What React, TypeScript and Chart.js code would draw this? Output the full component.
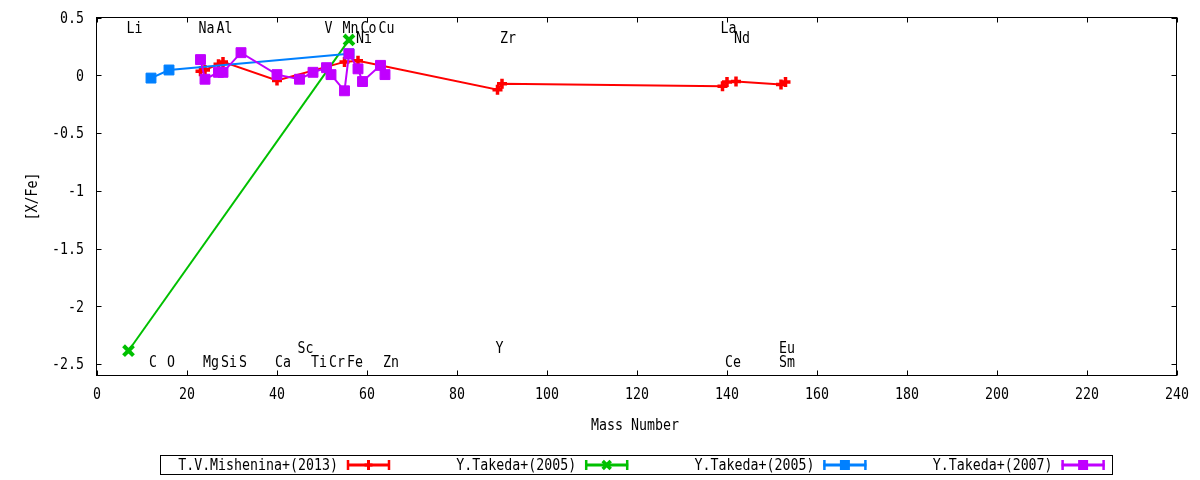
import React, { useEffect, useRef } from "react";
import { Chart, registerables } from "chart.js";

Chart.register(...registerables);

const FONT = '"DejaVu Sans Mono", monospace';
const FONT_SIZE = 15;
const TEXT_SX = 0.885; // gnuplot's text is a little narrow

const xTicks = [0, 20, 40, 60, 80, 100, 120, 140, 160, 180, 200, 220, 240];
const yTicks = [-2.5, -2, -1.5, -1, -0.5, 0, 0.5];
const xMin = 0;
const xMax = 240;
const yMin = -2.59;
const yMax = 0.5;

const xTitle = "Mass Number";
const yTitle = "[X/Fe]";

const seriesNames = ["T.V.Mishenina+(2013)", "Y.Takeda+(2005)", "Y.Takeda+(2005)", "Y.Takeda+(2007)"];
const seriesColors = ["#ff0000", "#00c000", "#0080ff", "#c000ff"];
const seriesMarkers = ["cross", "crossRot", "rect", "rect"];

const misheninaMass = [23, 24, 27, 28, 40, 55, 58, 89, 90, 139, 140, 142, 152, 153];
const misheninaVal = [0.04, 0.05, 0.1, 0.12, -0.04, 0.12, 0.13, -0.12, -0.07, -0.09, -0.055, -0.05, -0.075, -0.055];

const takeda05aMass = [7, 56];
const takeda05aVal = [-2.38, 0.31];

const takeda05bMass = [12, 16, 56];
const takeda05bVal = [-0.02, 0.05, 0.19];

const takeda07Mass = [23, 24, 27, 28, 32, 40, 45, 48, 51, 52, 55, 56, 58, 59, 63, 64];
const takeda07Val = [0.14, -0.03, 0.03, 0.03, 0.2, 0.01, -0.03, 0.03, 0.07, 0.01, -0.13, 0.19, 0.06, -0.05, 0.09, 0.01];

// element name labels written inside the plot
const elementNames = [
  "Li", "Na", "Al", "V", "Mn", "Co", "Cu", "La",
  "Ni", "Zr", "Nd",
  "C", "O", "Mg", "Si", "S", "Ca", "Ti", "Cr", "Fe", "Zn", "Ce", "Sm",
  "Sc", "Y", "Eu",
];
const elementMass = [
  7, 23, 27, 51, 55, 59, 63, 139,
  58, 90, 142,
  12, 16, 24, 28, 32, 40, 48, 52, 56, 64, 140, 152,
  45, 89, 152,
];
const elementLabelY = [
  0.41, 0.41, 0.41, 0.41, 0.41, 0.41, 0.41, 0.41,
  0.33, 0.33, 0.33,
  -2.48, -2.48, -2.48, -2.48, -2.48, -2.48, -2.48, -2.48, -2.48, -2.48, -2.48, -2.48,
  -2.36, -2.36, -2.36,
];

const toPoints = (xs: number[], ys: number[]) => xs.map((x, i) => ({ x, y: ys[i] }));

function drawText(ctx: CanvasRenderingContext2D, s: string, x: number, y: number, align: CanvasTextAlign, rot = 0) {
  ctx.save();
  ctx.translate(x, y);
  if (rot) ctx.rotate(rot);
  ctx.scale(TEXT_SX, 1);
  ctx.font = `${FONT_SIZE}px ${FONT}`;
  ctx.fillStyle = "#000";
  ctx.textAlign = align;
  ctx.textBaseline = "middle";
  ctx.fillText(s, 0, 1);
  ctx.restore();
}

function drawMarker(ctx: CanvasRenderingContext2D, kind: string, x: number, y: number, color: string) {
  ctx.save();
  ctx.strokeStyle = color;
  ctx.fillStyle = color;
  if (kind === "rect") {
    ctx.fillRect(x - 5, y - 5, 10, 10);
  } else if (kind === "cross") {
    ctx.lineWidth = 3;
    ctx.beginPath();
    ctx.moveTo(x - 4, y);
    ctx.lineTo(x + 4, y);
    ctx.moveTo(x, y - 5);
    ctx.lineTo(x, y + 5);
    ctx.stroke();
  } else {
    ctx.lineWidth = 3.5;
    ctx.beginPath();
    ctx.moveTo(x - 4, y - 4);
    ctx.lineTo(x + 4, y + 4);
    ctx.moveTo(x - 4, y + 4);
    ctx.lineTo(x + 4, y - 4);
    ctx.stroke();
  }
  ctx.restore();
}

const gnuplotLook = {
  id: "gnuplotLook",
  afterDraw(chart: any) {
    const { ctx, chartArea: a, scales } = chart;
    const sx = scales.x;
    const sy = scales.y;
    const crisp = (v: number) => Math.floor(v) + 0.5;
    ctx.save();

    // frame
    ctx.strokeStyle = "#000";
    ctx.lineWidth = 1;
    const L = crisp(a.left - 1);
    const R = crisp(a.right - 1);
    const T = crisp(a.top - 1);
    const B = crisp(a.bottom);
    ctx.strokeRect(L, T, R - L, B - T);

    // inward ticks on all four sides
    ctx.beginPath();
    xTicks.forEach((v) => {
      const px = crisp(sx.getPixelForValue(v));
      ctx.moveTo(px, B);
      ctx.lineTo(px, B - 5);
      ctx.moveTo(px, T);
      ctx.lineTo(px, T + 5);
    });
    yTicks.forEach((v) => {
      const py = crisp(sy.getPixelForValue(v));
      ctx.moveTo(L, py);
      ctx.lineTo(L + 5, py);
      ctx.moveTo(R, py);
      ctx.lineTo(R - 5, py);
    });
    ctx.stroke();

    // tick labels
    xTicks.forEach((v) => drawText(ctx, String(v), sx.getPixelForValue(v), a.bottom + 19, "center"));
    yTicks.forEach((v) => drawText(ctx, String(v), a.left - 13, sy.getPixelForValue(v), "right"));

    // axis titles
    drawText(ctx, xTitle, (a.left + a.right) / 2 - 2, a.bottom + 50, "center");
    drawText(ctx, yTitle, 32, (a.top + a.bottom) / 2, "center", -Math.PI / 2);

    // element labels
    elementNames.forEach((name, i) => {
      drawText(ctx, name, sx.getPixelForValue(elementMass[i]) - 2, sy.getPixelForValue(elementLabelY[i]), "left");
    });

    // legend box
    const ly = 465;
    ctx.strokeStyle = "#000";
    ctx.lineWidth = 1;
    ctx.strokeRect(160.5, 455.5, 952, 19);
    seriesNames.forEach((name, i) => {
      const textRight = 338 + i * 238.2;
      drawText(ctx, name, textRight, ly, "right");
      const x0 = textRight + 9;
      const x1 = textRight + 52;
      const c = seriesColors[i];
      ctx.strokeStyle = c;
      ctx.lineWidth = 3;
      ctx.beginPath();
      ctx.moveTo(x0, ly);
      ctx.lineTo(x1, ly);
      ctx.stroke();
      ctx.lineWidth = 2.5;
      ctx.beginPath();
      ctx.moveTo(x0 + 1, ly - 5);
      ctx.lineTo(x0 + 1, ly + 5);
      ctx.moveTo(x1 - 1, ly - 5);
      ctx.lineTo(x1 - 1, ly + 5);
      ctx.stroke();
      drawMarker(ctx, seriesMarkers[i], (x0 + x1) / 2, ly, c);
    });

    ctx.restore();
  },
};

export default function App() {
  const canvasRef = useRef<HTMLCanvasElement>(null);

  useEffect(() => {
    const ctx = canvasRef.current?.getContext("2d");
    if (!ctx) return;

    const allMass = [misheninaMass, takeda05aMass, takeda05bMass, takeda07Mass];
    const allVal = [misheninaVal, takeda05aVal, takeda05bVal, takeda07Val];
    const radius = [5, 7, 7, 7];
    const width = [3.5, 4, 1, 1];

    const chart = new Chart(ctx, {
      type: "scatter",
      data: {
        datasets: seriesNames.map((name, i) => ({
          label: name,
          data: toPoints(allMass[i], allVal[i]),
          showLine: true,
          borderColor: seriesColors[i],
          backgroundColor: seriesColors[i],
          borderWidth: 2,
          pointStyle: seriesMarkers[i] as any,
          pointRadius: radius[i],
          pointBorderWidth: width[i],
          pointBorderColor: seriesColors[i],
          pointBackgroundColor: seriesColors[i],
          tension: 0,
          order: seriesNames.length - i,
        })),
      },
      options: {
        animation: false,
        responsive: true,
        maintainAspectRatio: false,
        layout: { padding: { top: 18, right: 23, left: 0, bottom: 0 } },
        plugins: {
          legend: { display: false },
          tooltip: { enabled: false },
        },
        scales: {
          x: {
            type: "linear",
            min: xMin,
            max: xMax,
            grid: { display: false },
            border: { display: false },
            ticks: { display: false },
            afterBuildTicks: (s: any) => {
              s.ticks = xTicks.map((v) => ({ value: v }));
            },
            afterFit: (s: any) => {
              s.height = 105;
            },
          },
          y: {
            type: "linear",
            min: yMin,
            max: yMax,
            grid: { display: false },
            border: { display: false },
            ticks: { display: false },
            afterBuildTicks: (s: any) => {
              s.ticks = yTicks.map((v) => ({ value: v }));
            },
            afterFit: (s: any) => {
              s.width = 97;
            },
          },
        },
      },
      plugins: [gnuplotLook],
    });

    return () => {
      chart.destroy();
    };
  }, []);

  return (
    <div style={{ position: "absolute", left: 0, top: 0, width: 1200, height: 480, background: "#fff" }}>
      <canvas ref={canvasRef} />
    </div>
  );
}
